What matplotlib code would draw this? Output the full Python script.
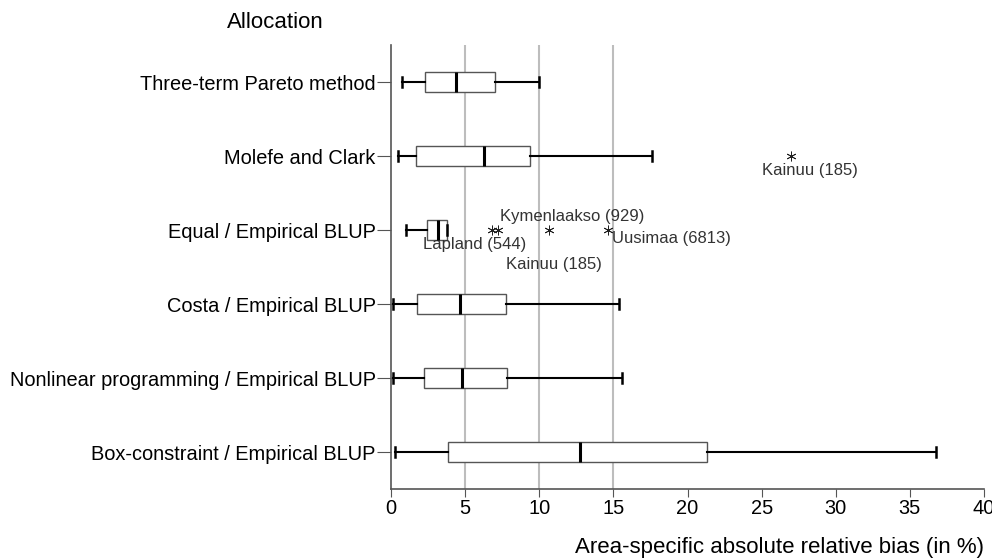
import matplotlib.pyplot as plt

plt.rcParams['font.family'] = ['Liberation Sans', 'DejaVu Sans']

# allocation methods, top to bottom
methods = ['Three-term Pareto method', 'Molefe and Clark', 'Equal / Empirical BLUP',
           'Costa / Empirical BLUP', 'Nonlinear programming / Empirical BLUP',
           'Box-constraint / Empirical BLUP']
whis_lo = [0.72, 0.45, 1.0, 0.16, 0.16, 0.3]
q1 = [2.3, 1.7, 2.4, 1.73, 2.23, 3.87]
median = [4.4, 6.3, 3.2, 4.66, 4.77, 12.75]
q3 = [7.0, 9.4, 3.76, 7.76, 7.8, 21.3]
whis_hi = [10.0, 17.6, 3.76, 15.4, 15.6, 36.75]
fliers = [[], [27.0], [6.8, 7.24, 10.66, 14.62], [], [], []]

# outlier labels: (row, x value, text, dx px, dy px, ha)
flier_labels = [
    (1, 27.0, 'Kainuu (185)', 19, -15, 'center'),
    (2, 7.24, 'Kymenlaakso (929)', 2, 13, 'left'),
    (2, 6.8, 'Lapland (544)', -69, -15, 'left'),
    (2, 10.66, 'Kainuu (185)', 5, -34, 'center'),
    (2, 14.62, 'Uusimaa (6813)', 4, -8, 'left'),
]

stats = []
for i in range(len(methods)):
    stats.append({'whislo': whis_lo[i], 'q1': q1[i], 'med': median[i],
                  'q3': q3[i], 'whishi': whis_hi[i], 'fliers': fliers[i]})

fig = plt.figure(figsize=(9.92, 5.6), dpi=100)
ax = fig.add_axes([391 / 992, 1 - 489 / 560, 593 / 992, 444 / 560])

pos = list(range(len(methods)))
ax.bxp(stats, positions=pos, vert=False, widths=0.26, patch_artist=True,
       showfliers=True,
       boxprops=dict(facecolor='white', edgecolor='#555555', linewidth=1.0),
       medianprops=dict(color='black', linewidth=2.2),
       whiskerprops=dict(color='black', linewidth=1.5),
       capprops=dict(color='black', linewidth=1.8),
       capwidths=0.13,
       flierprops=dict(marker=(6, 2, 0), markersize=7, markeredgecolor='#222222',
                       markeredgewidth=0.6, linestyle='none'),
       zorder=3)

for row, xv, txt, dx, dy, ha in flier_labels:
    ax.annotate(txt, (xv, row), xytext=(dx, dy), textcoords='offset pixels',
                ha=ha, va='center', fontsize=12, color='#333333')

for g in [5, 10, 15]:
    ax.axvline(g, color='#bdbdbd', linewidth=1.5, zorder=1)

ax.set_xlim(0, 40)
ax.set_ylim(len(methods) - 0.5, -0.5)
ax.set_xticks(range(0, 41, 5))
ax.set_yticks(pos)
ax.set_yticklabels(methods)
ax.tick_params(axis='x', labelsize=14.4, length=6, color='#555555', direction='out', pad=1)
ax.tick_params(axis='y', labelsize=14.4, length=10, color='#555555', direction='out', pad=1)

for s in ['top', 'right']:
    ax.spines[s].set_visible(False)
for s in ['left', 'bottom']:
    ax.spines[s].set_color('#555555')
    ax.spines[s].set_linewidth(1.2)

ax.set_xlabel('Area-specific absolute relative bias (in %)', fontsize=16,
              loc='right', labelpad=14)
fig.text(275 / 992, 1 - 23 / 560, 'Allocation', fontsize=16, ha='center', va='center')

plt.savefig('out.png', dpi=100)
